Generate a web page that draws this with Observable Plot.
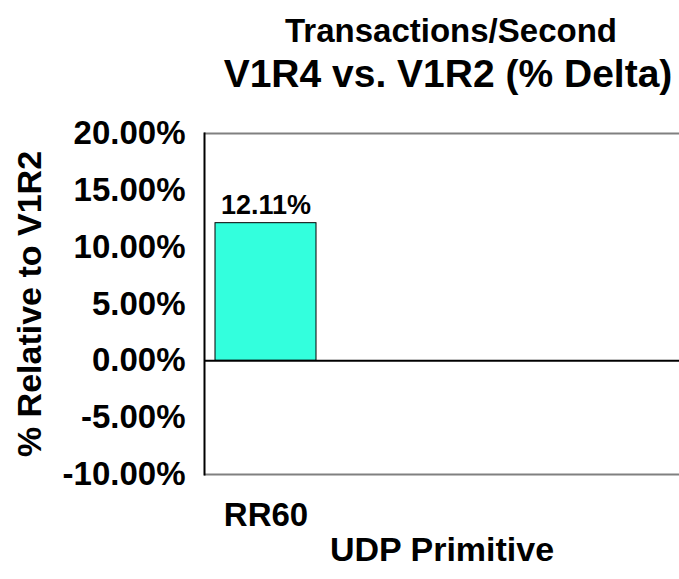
<!DOCTYPE html>
<html>
<head>
<meta charset="utf-8">
<script src="https://cdn.jsdelivr.net/npm/d3@7"></script>
<script src="https://cdn.jsdelivr.net/npm/@observablehq/plot@0.6"></script>
<style>
  body { margin: 0; background: #fff; }
  #wrap { position: relative; width: 679px; height: 579px; overflow: hidden; font-family: Arial, "Liberation Sans", Helvetica, sans-serif; }
  #head { position: relative; height: 100px; }
  .t { position: absolute; white-space: nowrap; font-weight: bold; color: #000; transform: translateX(-50%); }
  #t1 { left: 451px; top: 14px; font-size: 33px; line-height: 33px; }
  #t2 { left: 448px; top: 54px; font-size: 39px; line-height: 39px; }
  svg { display: block; }
</style>
</head>
<body>
<div id="wrap">
  <div id="head">
    <div class="t" id="t1">Transactions/Second</div>
    <div class="t" id="t2">V1R4 vs. V1R2 (% Delta)</div>
  </div>
  <div id="chart"></div>
</div>
<script>
const categories = ["RR60"];
const values = [12.11];
const yTicks = [-10, -5, 0, 5, 10, 15, 20];
const xTitle = "UDP Primitive";
const yTitle = "% Relative to V1R2";

const data = categories.map((c, i) => ({cat: c, val: values[i]}));
const font = 'Arial, "Liberation Sans", Helvetica, sans-serif';

const chart = Plot.plot({
  width: 679,
  height: 479,
  marginTop: 33,
  marginBottom: 105,
  marginLeft: 204,
  marginRight: 0,
  style: {fontFamily: font, background: "#fff", color: "#000"},
  x: {domain: categories, paddingInner: 0, paddingOuter: 1.83, align: 0.03},
  y: {domain: [-10, 20]},
  marks: [
    Plot.ruleY([-10, 20], {stroke: "#808080", strokeWidth: 2}),
    Plot.barY(data, {x: "cat", y: "val", fill: "#33FFDD", stroke: "#000", strokeWidth: 1}),
    Plot.ruleY([0], {stroke: "#000", strokeWidth: 2}),
    Plot.frame({anchor: "left", stroke: "#000", strokeWidth: 2}),
    Plot.text(data, {x: "cat", y: "val", text: d => d.val.toFixed(2) + "%", lineAnchor: "bottom", dy: -9, fontSize: 27, fontWeight: "bold", fill: "#000"}),
    Plot.axisY({ticks: yTicks, tickSize: 0, tickPadding: 19, tickFormat: d => d.toFixed(2) + "%", fontSize: 33, fontWeight: "bold", label: null, fill: "#000"}),
    Plot.axisX({tickSize: 0, tickPadding: 28, fontSize: 33, fontWeight: "bold", label: null, fill: "#000"}),
    Plot.text([xTitle], {frameAnchor: "bottom", text: d => d, textAnchor: "middle", lineAnchor: "middle", dy: 76, fontSize: 34, fontWeight: "bold", fill: "#000"}),
    Plot.text([yTitle], {frameAnchor: "left", text: d => d, rotate: -90, textAnchor: "middle", lineAnchor: "middle", dx: -174, fontSize: 34, fontWeight: "bold", fill: "#000"})
  ]
});
document.getElementById("chart").appendChild(chart);
</script>
</body>
</html>
